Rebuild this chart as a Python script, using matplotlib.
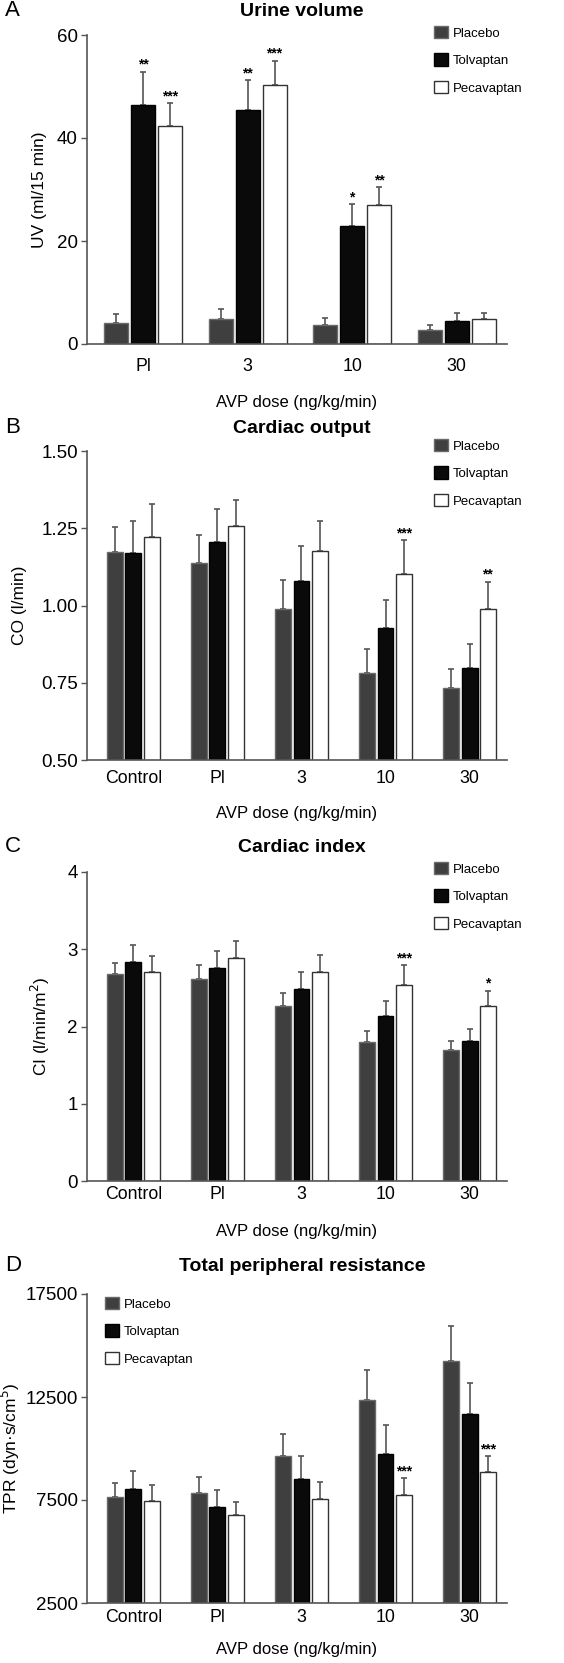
import numpy as np
import matplotlib.pyplot as plt

plt.rcParams['font.family'] = ['Liberation Sans', 'DejaVu Sans']

# --- data ---
series = ['Placebo', 'Tolvaptan', 'Pecavaptan']

# A: urine volume (no control group)
uv_groups = ['Pl', '3', '10', '30']
uv_placebo = [4.0, 4.8, 3.6, 2.7]
uv_placebo_err = [1.8, 2.0, 1.5, 1.0]
uv_tolv = [46.5, 45.4, 22.9, 4.5]
uv_tolv_err = [6.4, 5.8, 4.2, 1.5]
uv_peca = [42.3, 50.2, 26.9, 4.8]
uv_peca_err = [4.4, 4.8, 3.5, 1.2]
uv_stars = [['', '**', '***'], ['', '**', '***'], ['', '*', '**'], ['', '', '']]

groups = ['Control', 'Pl', '3', '10', '30']

# B: cardiac output
co_placebo = [1.172, 1.139, 0.989, 0.782, 0.732]
co_placebo_err = [0.081, 0.088, 0.092, 0.077, 0.061]
co_tolv = [1.169, 1.204, 1.080, 0.928, 0.797]
co_tolv_err = [0.106, 0.108, 0.112, 0.090, 0.078]
co_peca = [1.223, 1.258, 1.177, 1.103, 0.989]
co_peca_err = [0.106, 0.084, 0.098, 0.109, 0.088]
co_stars = [['', '', ''], ['', '', ''], ['', '', ''], ['', '', '***'], ['', '', '**']]

# C: cardiac index
ci_placebo = [2.68, 2.62, 2.27, 1.80, 1.69]
ci_placebo_err = [0.14, 0.18, 0.17, 0.14, 0.12]
ci_tolv = [2.83, 2.76, 2.48, 2.14, 1.81]
ci_tolv_err = [0.22, 0.22, 0.22, 0.19, 0.16]
ci_peca = [2.71, 2.89, 2.71, 2.54, 2.26]
ci_peca_err = [0.20, 0.22, 0.22, 0.25, 0.20]
ci_stars = [['', '', ''], ['', '', ''], ['', '', ''], ['', '', '***'], ['', '', '*']]

# D: total peripheral resistance
tpr_placebo = [7650, 7820, 9640, 12340, 14250]
tpr_placebo_err = [680, 780, 1070, 1470, 1680]
tpr_tolv = [8050, 7180, 8520, 9730, 11690]
tpr_tolv_err = [860, 810, 1130, 1390, 1470]
tpr_peca = [7450, 6770, 7530, 7760, 8860]
tpr_peca_err = [760, 620, 860, 790, 760]
tpr_stars = [['', '', ''], ['', '', ''], ['', '', ''], ['', '', '***'], ['', '', '***']]

colors = ['#3f3f3f', '#0a0a0a', '#ffffff']
edges = ['#6a6a6a', '#000000', '#333333']
axis_col = '#555555'

W, H = 564, 1663
fig = plt.figure(figsize=(W / 100, H / 100), dpi=100)


def px_axes(left, right, top, bottom):
    return fig.add_axes([left / W, 1 - bottom / H, (right - left) / W, (bottom - top) / H])


def panel(ax, cats, vals, errs, stars, xlim, width, pitch, ylim, yticks, yfmt,
          ylabel, ylab_x, tick_pad, xlab_y):
    x = np.arange(len(cats))
    handles = []
    for i in range(3):
        xs = x + (i - 1) * pitch
        b = ax.bar(xs, vals[i], width, color=colors[i], edgecolor=edges[i],
                   linewidth=1.0, zorder=2)
        handles.append(b)
        ax.errorbar(xs, vals[i], yerr=[np.zeros(len(cats)), errs[i]], fmt='none',
                    ecolor=axis_col, elinewidth=1.2, capsize=2.5, capthick=1.2, zorder=1)
        for j in range(len(cats)):
            s = stars[j][i]
            if s:
                ax.annotate(s, xy=(xs[j], vals[i][j] + errs[i][j]), xytext=(0, 0),
                            textcoords='offset points', ha='center', va='bottom',
                            fontsize=10, fontweight='bold')
    ax.set_xlim(*xlim)
    ax.set_ylim(*ylim)
    ax.set_yticks(yticks)
    ax.set_yticklabels([yfmt.format(v) for v in yticks])
    ax.set_xticks(x)
    ax.set_xticklabels(cats)
    ax.tick_params(axis='x', length=0, pad=tick_pad, labelsize=12.75)
    ax.tick_params(axis='y', length=4.5, width=1, color=axis_col, pad=2, labelsize=13.5)
    for sp in ['top', 'right']:
        ax.spines[sp].set_visible(False)
    for sp in ['left', 'bottom']:
        ax.spines[sp].set_color(axis_col)
        ax.spines[sp].set_linewidth(1.2)
    ax.set_ylabel(ylabel, fontsize=12.5)
    ax.yaxis.set_label_coords(ylab_x, 0.5)
    ax.set_xlabel('AVP dose (ng/kg/min)', fontsize=12)
    ax.xaxis.set_label_coords(0.5, xlab_y)
    return handles


def legend(ax, handles, lx, ly):
    ax.legend(handles, series, loc='upper left', bbox_to_anchor=(lx / W, 1 - ly / H),
              bbox_transform=fig.transFigure, frameon=False, fontsize=9.5,
              handlelength=1.05, handleheight=1.05, labelspacing=1.05,
              handletextpad=0.35, borderpad=0, borderaxespad=0)


def titles(letter, title, base):
    fig.text(5 / W, 1 - base / H, letter, fontsize=16, va='baseline', ha='left')
    fig.text(302 / W, 1 - base / H, title, fontsize=14, fontweight='bold',
             va='baseline', ha='center')


# A
axA = px_axes(87, 507, 35, 344)
h = panel(axA, uv_groups, [uv_placebo, uv_tolv, uv_peca],
          [uv_placebo_err, uv_tolv_err, uv_peca_err], uv_stars,
          (-0.535, 3.48), 0.229, 0.258, (0, 60), [0, 20, 40, 60], '{:.0f}',
          'UV (ml/15 min)', -0.095, 10, -0.165)
legend(axA, h, 434, 26)
titles('A', 'Urine volume', 16)

# B
axB = px_axes(87, 507, 451, 760)
h = panel(axB, groups, [co_placebo, co_tolv, co_peca],
          [co_placebo_err, co_tolv_err, co_peca_err], co_stars,
          (-0.553, 4.446), 0.19, 0.218, (0.5, 1.5), [0.5, 0.75, 1.0, 1.25, 1.5], '{:.2f}',
          'CO (l/min)', -0.143, 7, -0.149)
legend(axB, h, 434, 439)
titles('B', 'Cardiac output', 433)

# C
axC = px_axes(87, 507, 872, 1181)
h = panel(axC, groups, [ci_placebo, ci_tolv, ci_peca],
          [ci_placebo_err, ci_tolv_err, ci_peca_err], ci_stars,
          (-0.553, 4.446), 0.19, 0.218, (0, 4), [0, 1, 2, 3, 4], '{:.0f}',
          'CI (l/min/m$^2$)', -0.083, 3.5, -0.139)
legend(axC, h, 434, 862)
titles('C', 'Cardiac index', 852)

# D
axD = px_axes(87, 507, 1294, 1603)
h = panel(axD, groups, [tpr_placebo, tpr_tolv, tpr_peca],
          [tpr_placebo_err, tpr_tolv_err, tpr_peca_err], tpr_stars,
          (-0.553, 4.446), 0.19, 0.218, (2500, 17500), [2500, 7500, 12500, 17500], '{:.0f}',
          'TPR (dyn\u00b7s/cm$^5$)', -0.155, 4, -0.126)
legend(axD, h, 105, 1297)
titles('D', 'Total peripheral resistance', 1271)

fig.savefig('out.png', dpi=100)
